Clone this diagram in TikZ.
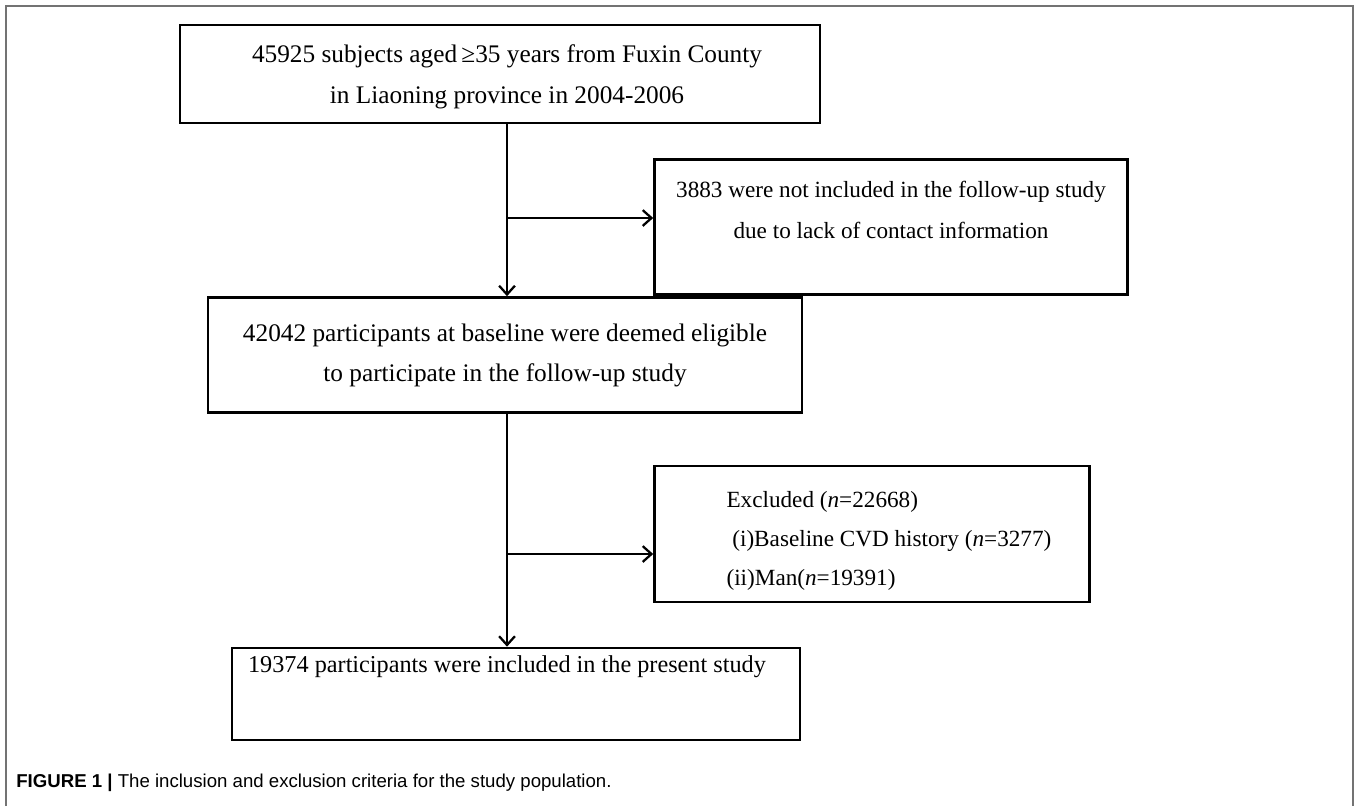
\documentclass[tikz,border=0pt]{standalone}
\usepackage{fontspec}
\setmainfont{Liberation Serif}
\newfontfamily\capfont{Liberation Sans}
\usetikzlibrary{positioning,arrows.meta}

\newcommand{\pxu}{0.02cm}

\tikzset{
    box/.style={draw, line width=1.5pt, inner sep=0pt},
    txt/.style={inner sep=0pt, align=center, font=\fontsize{14.4}{23.2}\selectfont},
    sidetxt/.style={txt, font=\fontsize{13.2}{23.2}\selectfont},
    flow/.style={line width=1.3pt, -{Straight Barb[length=5pt, width=9pt, line width=1.3pt]}}
}

\begin{document}
\begin{tikzpicture}[x=\pxu, y=-\pxu]
    \useasboundingbox (0, 0) rectangle (1358, 806);
    \draw[black!55, line width=1.1pt] (6, 806) -- (6, 6) -- (1353, 6) -- (1353, 806);

    \node[box, minimum width=640*\pxu, minimum height=98*\pxu] (cohort) at (500, 74) {};
    \coordinate (trunk) at ([xshift=7*\pxu]cohort.south);
    \node[txt, below=21*\pxu of trunk |- cohort.north] (cohorttxt)
        {45925 subjects aged\,≥35 years from Fuxin County\\in Liaoning province in 2004-2006};

    \node[box, minimum width=473*\pxu, minimum height=135*\pxu] (nocontact) at (891, 227) {};
    \node[sidetxt, below=23*\pxu of nocontact.north] (nocontacttxt)
        {3883 were not included in the follow-up study\\due to lack of contact information};

    \node[box, minimum width=594*\pxu, minimum height=115*\pxu] (eligible) at (505, 355) {};
    \node[txt, below=27*\pxu of eligible.north] (eligibletxt)
        {42042 participants at baseline were deemed eligible\\to participate in the follow-up study};

    \node[box, minimum width=435*\pxu, minimum height=136*\pxu] (excluded) at (872, 534) {};
    \node[sidetxt, font=\fontsize{13.2}{22.2}\selectfont, align=left, anchor=north west] (excludedtxt)
        at ([xshift=73*\pxu, yshift=-26*\pxu]excluded.north west)
        {Excluded (\textit{n}=22668)\\\ (i)Baseline CVD history (\textit{n}=3277)\\(ii)Man(\textit{n}=19391)};

    \node[box, minimum width=568*\pxu, minimum height=92*\pxu] (included) at (516, 694) {};
    \node[txt, font=\fontsize{13.8}{23.2}\selectfont, below=9*\pxu of trunk |- included.north] (includedtxt)
        {19374 participants were included in the present study};

    \coordinate (split1) at ([yshift=9*\pxu]trunk |- nocontact.west);
    \coordinate (split2) at ([yshift=-20*\pxu]trunk |- excluded.west);
    \draw[flow] (trunk) -- (trunk |- eligible.north);
    \draw[flow] (split1) -- (split1 -| nocontact.west);
    \draw[flow] (trunk |- eligible.south) -- (trunk |- included.north);
    \draw[flow] (split2) -- (split2 -| excluded.west);

    \node[anchor=west, inner sep=0pt, font=\capfont\fontsize{10.6}{12}\selectfont] (caption) at (16, 783)
        {\textbf{FIGURE 1 |} The inclusion and exclusion criteria for the study population.};
\end{tikzpicture}
\end{document}
